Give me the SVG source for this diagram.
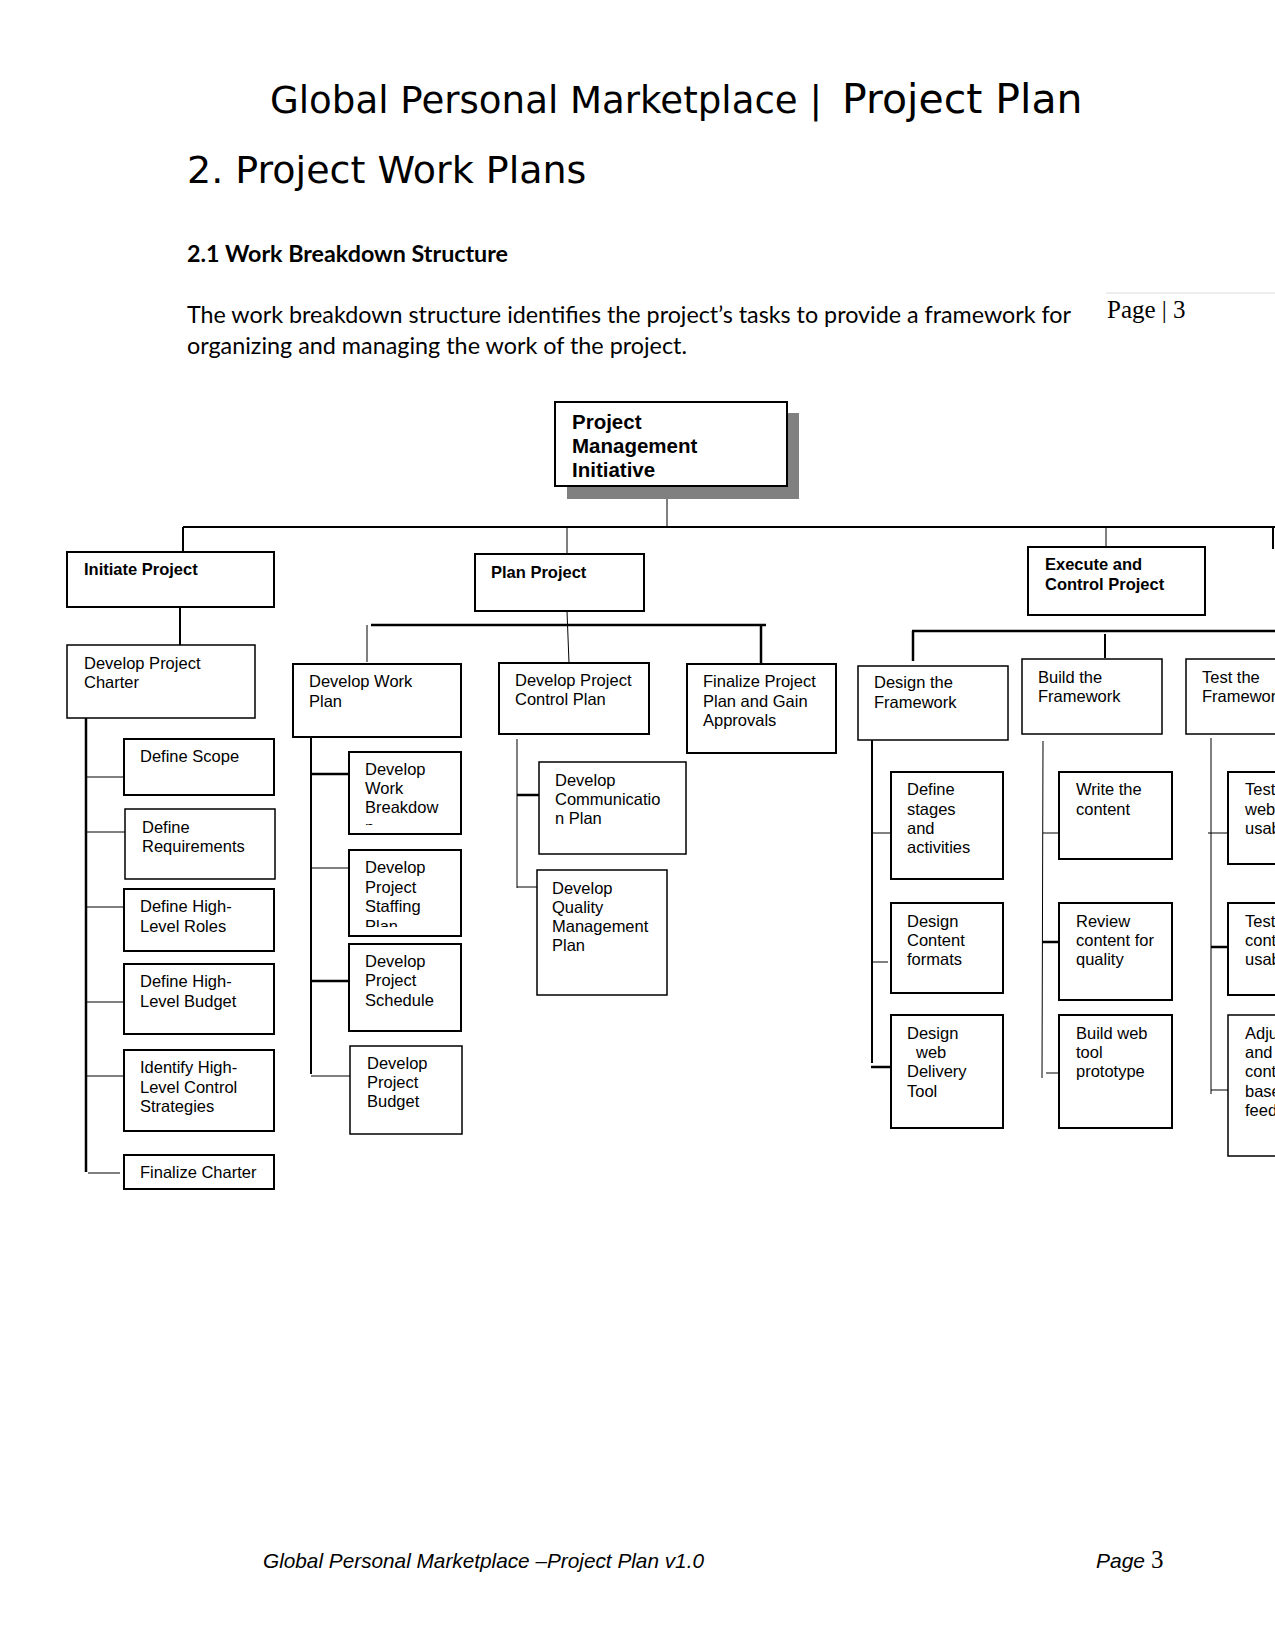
<svg xmlns="http://www.w3.org/2000/svg" width="1275" height="1650" viewBox="0 0 1275 1650">
<style>
.bg{fill:#fff}
.box{fill:#fff;stroke:#000;stroke-width:2}
.thin{stroke-width:1.5}
.t{font-family:"Liberation Sans",Arial,sans-serif;font-size:16.5px;fill:#000}
.b{font-weight:bold}
.big{font-size:20.5px}
.c{fill:none;stroke:#000;stroke-width:1}
.c2{fill:none;stroke:#000;stroke-width:2}
.c3{fill:none;stroke:#000;stroke-width:2.5}
.hd{font-family:"DejaVu Sans",Verdana,sans-serif;fill:#000}
.body{font-family:Lato,"Open Sans",sans-serif;font-size:22.5px;fill:#000}
.ft{font-family:"Liberation Sans",Arial,sans-serif;font-style:italic;font-size:21px;fill:#000}
.sr{font-family:"Liberation Serif","Times New Roman",serif;fill:#000}
</style>
<defs>
<clipPath id="clipWbs"><rect x="349" y="752" width="112" height="73"/></clipPath>
<clipPath id="clipStaff"><rect x="349" y="850" width="112" height="77"/></clipPath>
</defs>
<rect class="bg" x="0" y="0" width="1275" height="1650"/>

<g id="page-text">
<text class="hd" x="270" y="113" font-size="37" textLength="552" lengthAdjust="spacingAndGlyphs">Global Personal Marketplace |</text>
<text class="hd" x="842" y="113" font-size="41">Project Plan</text>
<text class="hd" x="187" y="183" font-size="38">2. Project Work Plans</text>
<text class="body" x="187" y="262" font-weight="bold" textLength="321" lengthAdjust="spacingAndGlyphs">2.1 Work Breakdown Structure</text>
<text class="body" x="187" y="323" textLength="884" lengthAdjust="spacingAndGlyphs">The work breakdown structure identifies the project’s tasks to provide a framework for</text>
<text class="body" x="187" y="354" textLength="500" lengthAdjust="spacingAndGlyphs">organizing and managing the work of the project.</text>
<line x1="1106" y1="293" x2="1275" y2="293" stroke="#dcdcdc" stroke-width="1"/>
<text class="sr" x="1107" y="318" font-size="25">Page | 3</text>
<text class="ft" x="263" y="1568" textLength="441" lengthAdjust="spacingAndGlyphs">Global Personal Marketplace –Project Plan v1.0</text>
<text x="1096" y="1568"><tspan class="ft">Page </tspan><tspan class="sr" font-size="25">3</tspan></text>
</g>

<g id="connectors">
<path class="c" d="M667,486 V527"/>
<path class="c2" d="M183,527 H1275"/>
<path class="c2" d="M183,527 V552"/>
<path class="c" d="M567,527 V554"/>
<path class="c" d="M1106,527 V547"/>
<path class="c2" d="M1273,527 V549"/>
<path class="c2" d="M180,607 V645"/>
<path class="c3" d="M86,718 V1172"/>
<path class="c" d="M86,777 H124 M86,832 H125 M86,907 H124 M86,1002 H124 M86,1076 H124 M88,1173 H120"/>
<path class="c3" d="M371,625 H766"/>
<path class="c" d="M367,625 V662"/>
<path class="c" stroke-width="1.5" d="M567,611 L569,663"/>
<path class="c3" d="M761,625 V664"/>
<path class="c2" d="M311,737 V1074"/>
<path class="c3" d="M311,774 H349 M311,981 H349"/>
<path class="c" d="M311,868 H349 M311,1076 H350"/>
<path class="c" d="M517,739 V888 M517,887 H537"/>
<path class="c3" d="M517,795 H539"/>
<path class="c3" d="M912,631 H1275"/>
<path class="c3" d="M913,631 V661"/>
<path class="c2" d="M1105,634 V658"/>
<path class="c2" d="M872,740 V1063"/>
<path class="c" d="M872,833 H891 M872,962 H888"/>
<path class="c3" d="M871,1067 H891"/>
<path class="c" stroke-width="1.5" d="M1043,741 L1042,1078"/>
<path class="c" d="M1043,833 H1059 M1046,1073 H1059"/>
<path class="c3" d="M1042,942 H1059"/>
<path class="c" stroke-width="1.5" d="M1211,738 V1094"/>
<path class="c" d="M1208,833 H1228 M1211,1090 H1228"/>
<path class="c3" d="M1211,947 H1228"/>
</g>

<g id="n-root">
<rect x="567" y="413" width="232" height="86" fill="#808080"/>
<rect class="box" x="555" y="402" width="232" height="84"/>
<text class="t b big" x="572" y="429"><tspan x="572">Project</tspan><tspan x="572" dy="24">Management</tspan><tspan x="572" dy="24">Initiative</tspan></text>
</g>

<g id="n-initiate">
<rect class="box" x="67" y="552" width="207" height="55"/>
<text class="t b" x="84" y="575">Initiate Project</text>
</g>
<g id="n-plan">
<rect class="box" x="475" y="554" width="169" height="57"/>
<text class="t b" x="491" y="578">Plan Project</text>
</g>
<g id="n-exec">
<rect class="box" x="1028" y="547" width="177" height="68"/>
<text class="t b" x="1045" y="570"><tspan x="1045">Execute and</tspan><tspan x="1045" dy="20">Control Project</tspan></text>
</g>

<g id="n-charter">
<rect class="box thin" x="67" y="645" width="188" height="73"/>
<text class="t" x="84" y="669"><tspan x="84">Develop Project</tspan><tspan x="84" dy="19">Charter</tspan></text>
</g>
<g id="n-scope">
<rect class="box" x="124" y="739" width="150" height="56"/>
<text class="t" x="140" y="762">Define Scope</text>
</g>
<g id="n-req">
<rect class="box thin" x="125" y="809" width="150" height="70"/>
<text class="t" x="142" y="833"><tspan x="142">Define</tspan><tspan x="142" dy="19">Requirements</tspan></text>
</g>
<g id="n-roles">
<rect class="box" x="124" y="889" width="150" height="62"/>
<text class="t" x="140" y="912"><tspan x="140">Define High-</tspan><tspan x="140" dy="20">Level Roles</tspan></text>
</g>
<g id="n-hlbudget">
<rect class="box" x="124" y="964" width="150" height="70"/>
<text class="t" x="140" y="987"><tspan x="140">Define High-</tspan><tspan x="140" dy="20">Level Budget</tspan></text>
</g>
<g id="n-strategies">
<rect class="box" x="124" y="1050" width="150" height="81"/>
<text class="t" x="140" y="1073"><tspan x="140">Identify High-</tspan><tspan x="140" dy="20">Level Control</tspan><tspan x="140" dy="19">Strategies</tspan></text>
</g>
<g id="n-fcharter">
<rect class="box" x="124" y="1155" width="150" height="34"/>
<text class="t" x="140" y="1178">Finalize Charter</text>
</g>

<g id="n-workplan">
<rect class="box" x="293" y="664" width="168" height="73"/>
<text class="t" x="309" y="687"><tspan x="309">Develop Work</tspan><tspan x="309" dy="20">Plan</tspan></text>
</g>
<g id="n-wbs">
<rect class="box" x="349" y="752" width="112" height="82"/>
<text class="t" x="365" y="775" clip-path="url(#clipWbs)"><tspan x="365">Develop</tspan><tspan x="365" dy="19">Work</tspan><tspan x="365" dy="19">Breakdow</tspan><tspan x="365" dy="20">n</tspan></text>
</g>
<g id="n-staff">
<rect class="box" x="349" y="850" width="112" height="86"/>
<text class="t" x="365" y="873" clip-path="url(#clipStaff)"><tspan x="365">Develop</tspan><tspan x="365" dy="20">Project</tspan><tspan x="365" dy="19">Staffing</tspan><tspan x="365" dy="20">Plan</tspan></text>
</g>
<g id="n-schedule">
<rect class="box" x="349" y="944" width="112" height="87"/>
<text class="t" x="365" y="967"><tspan x="365">Develop</tspan><tspan x="365" dy="19">Project</tspan><tspan x="365" dy="20">Schedule</tspan></text>
</g>
<g id="n-pbudget">
<rect class="box thin" x="350" y="1046" width="112" height="88"/>
<text class="t" x="367" y="1069"><tspan x="367">Develop</tspan><tspan x="367" dy="19">Project</tspan><tspan x="367" dy="19">Budget</tspan></text>
</g>

<g id="n-ctrlplan">
<rect class="box" x="499" y="663" width="150" height="71"/>
<text class="t" x="515" y="686"><tspan x="515">Develop Project</tspan><tspan x="515" dy="19">Control Plan</tspan></text>
</g>
<g id="n-comm">
<rect class="box thin" x="539" y="762" width="147" height="92"/>
<text class="t" x="555" y="786"><tspan x="555">Develop</tspan><tspan x="555" dy="19">Communicatio</tspan><tspan x="555" dy="19">n Plan</tspan></text>
</g>
<g id="n-quality">
<rect class="box thin" x="537" y="870" width="130" height="125"/>
<text class="t" x="552" y="894"><tspan x="552">Develop</tspan><tspan x="552" dy="19">Quality</tspan><tspan x="552" dy="19">Management</tspan><tspan x="552" dy="19">Plan</tspan></text>
</g>

<g id="n-finalplan">
<rect class="box" x="687" y="664" width="149" height="89"/>
<text class="t" x="703" y="687"><tspan x="703">Finalize Project</tspan><tspan x="703" dy="20">Plan and Gain</tspan><tspan x="703" dy="19">Approvals</tspan></text>
</g>

<g id="n-design">
<rect class="box thin" x="858" y="666" width="150" height="74"/>
<text class="t" x="874" y="688"><tspan x="874">Design the</tspan><tspan x="874" dy="20">Framework</tspan></text>
</g>
<g id="n-stages">
<rect class="box" x="891" y="772" width="112" height="107"/>
<text class="t" x="907" y="795"><tspan x="907">Define</tspan><tspan x="907" dy="20">stages</tspan><tspan x="907" dy="19">and</tspan><tspan x="907" dy="19">activities</tspan></text>
</g>
<g id="n-formats">
<rect class="box" x="891" y="903" width="112" height="90"/>
<text class="t" x="907" y="927"><tspan x="907">Design</tspan><tspan x="907" dy="19">Content</tspan><tspan x="907" dy="19">formats</tspan></text>
</g>
<g id="n-delivery">
<rect class="box" x="891" y="1015" width="112" height="113"/>
<text class="t" x="907" y="1039"><tspan x="907">Design</tspan><tspan x="916" dy="19">web</tspan><tspan x="907" dy="19">Delivery</tspan><tspan x="907" dy="20">Tool</tspan></text>
</g>

<g id="n-build">
<rect class="box thin" x="1022" y="659" width="140" height="75"/>
<text class="t" x="1038" y="683"><tspan x="1038">Build the</tspan><tspan x="1038" dy="19">Framework</tspan></text>
</g>
<g id="n-write">
<rect class="box" x="1059" y="772" width="113" height="87"/>
<text class="t" x="1076" y="795"><tspan x="1076">Write the</tspan><tspan x="1076" dy="20">content</tspan></text>
</g>
<g id="n-review">
<rect class="box" x="1059" y="903" width="113" height="97"/>
<text class="t" x="1076" y="927"><tspan x="1076">Review</tspan><tspan x="1076" dy="19">content for</tspan><tspan x="1076" dy="19">quality</tspan></text>
</g>
<g id="n-proto">
<rect class="box" x="1059" y="1015" width="113" height="113"/>
<text class="t" x="1076" y="1039"><tspan x="1076">Build web</tspan><tspan x="1076" dy="19">tool</tspan><tspan x="1076" dy="19">prototype</tspan></text>
</g>

<g id="n-test">
<rect class="box thin" x="1186" y="659" width="100" height="75"/>
<text class="t" x="1202" y="683"><tspan x="1202">Test the</tspan><tspan x="1202" dy="19">Framewor</tspan></text>
</g>
<g id="n-testweb">
<rect class="box" x="1228" y="772" width="60" height="92"/>
<text class="t" x="1245" y="795"><tspan x="1245">Test</tspan><tspan x="1245" dy="20">web</tspan><tspan x="1245" dy="19">usab</tspan></text>
</g>
<g id="n-testcont">
<rect class="box" x="1228" y="903" width="60" height="92"/>
<text class="t" x="1245" y="927"><tspan x="1245">Test</tspan><tspan x="1245" dy="19">cont</tspan><tspan x="1245" dy="19">usab</tspan></text>
</g>
<g id="n-adjust">
<rect class="box thin" x="1228" y="1015" width="60" height="141"/>
<text class="t" x="1245" y="1039"><tspan x="1245">Adju</tspan><tspan x="1245" dy="19">and</tspan><tspan x="1245" dy="19">cont</tspan><tspan x="1245" dy="20">base</tspan><tspan x="1245" dy="19">feed</tspan></text>
</g>
</svg>
